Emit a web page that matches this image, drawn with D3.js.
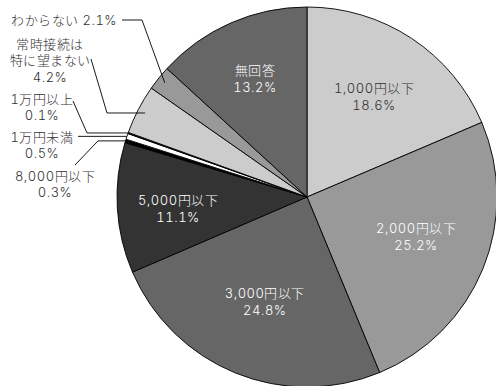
<!DOCTYPE html>
<html>
<head>
<meta charset="utf-8">
<script src="https://cdn.jsdelivr.net/npm/d3@7"></script>
<style>
  /* Light CJK face for kana/kanji; Latin digits fall through to Inter */
  @font-face {
    font-family: "ChartKanji";
    src: local("Noto Sans CJK JP Light"), local("NotoSansCJKjp-Light"), local("Noto Sans CJK JP");
    unicode-range: U+3000-9FFF, U+FF00-FFEF;
  }
  html, body { margin: 0; padding: 0; background: #fff; }
  svg { display: block; }
  text {
    font-family: "ChartKanji", "Inter", "DejaVu Sans", "Noto Sans CJK JP", sans-serif;
    font-size: 13px; font-weight: 300;
    font-feature-settings: "tnum" 1;
    letter-spacing: 0.5px;
  }
</style>
</head>
<body>
<svg id="chart" width="496" height="386"></svg>
<script>
// Slices, clockwise from 12 o'clock
const categories = [
  "1,000円以下", "2,000円以下", "3,000円以下", "5,000円以下", "8,000円以下",
  "1万円未満", "1万円以上", "常時接続は特に望まない", "わからない", "無回答"
];
const values = [18.6, 25.2, 24.8, 11.1, 0.3, 0.5, 0.1, 4.2, 2.1, 13.2];
const fills = ["#cccccc", "#999999", "#666666", "#333333", "#000000",
               "#ffffff", "#000000", "#cccccc", "#999999", "#666666"];

// Label text lines (category part) for each slice
const labelLines = [
  ["1,000円以下"], ["2,000円以下"], ["3,000円以下"], ["5,000円以下"], ["8,000円以下"],
  ["1万円未満"], ["1万円以上"], ["常時接続は", "特に望まない"], ["わからない"], ["無回答"]
];

const svg = d3.select("#chart");
const cx = 307, cy = 197, R = 190;

const data = categories.map((c, i) => ({ category: c, value: values[i], fill: fills[i], lines: labelLines[i] }));
const pct = v => d3.format(".1f")(v) + "%";

const pie = d3.pie().sort(null).value(d => d.value);
const arcs = pie(data);
const arc = d3.arc().innerRadius(0).outerRadius(R);

const g = svg.append("g").attr("transform", `translate(${cx},${cy})`);

g.selectAll("path.slice")
  .data(arcs)
  .join("path")
  .attr("class", "slice")
  .attr("d", arc)
  .attr("fill", d => d.data.fill)
  .attr("stroke", "#000")
  .attr("stroke-width", 0.9)
  .attr("stroke-linejoin", "round");

// Labels drawn inside the large slices (r: fraction of radius, dy: vertical nudge)
const innerLayout = {
  "1,000円以下": { r: 0.64, dy: 1,  color: "#333" },
  "2,000円以下": { r: 0.62, dy: -5, color: "#fff" },
  "3,000円以下": { r: 0.59, dy: 1,  color: "#fff" },
  "5,000円以下": { r: 0.68, dy: 4,  color: "#fff" },
  "無回答":      { r: 0.68, dy: 0,  color: "#fff" }
};
const lineH = 17;

function drawLines(parent, x, y, anchor, color, lines, step) {
  lines.forEach((s, k) => {
    parent.append("text")
      .attr("x", x)
      .attr("y", y + k * step)
      .attr("dy", "0.35em")
      .attr("text-anchor", anchor)
      .attr("fill", color)
      .text(s);
  });
}

arcs.filter(d => innerLayout[d.data.category]).forEach(d => {
  const L = innerLayout[d.data.category];
  const [x, y] = d3.arc().innerRadius(R * L.r).outerRadius(R * L.r).centroid(d);
  drawLines(g, x, y + L.dy - lineH / 2, "middle", L.color,
            d.data.lines.concat([pct(d.data.value)]), lineH);
});

// Small slices: labels placed outside with leader lines
// tx/ty: text anchor & first line centre; p0: start of leader; elbowX: where it turns
// to horizontal; rk: fraction of radius the leader reaches into the slice
const outerLayout = {
  "わからない":             { tx: 117, ty: 20, anchor: "end", inline: true, p0: [122, 20], elbow: [142, 20], rk: 0.96 },
  "常時接続は特に望まない": { tx: 50, ty: 44, anchor: "middle", p0: [91, 59], elbowX: 107, rk: 0.96 },
  "1万円以上":              { tx: 42, ty: 99, anchor: "middle", p0: [73, 101], elbowX: 87, rk: 1.0 },
  "1万円未満":              { tx: 42, ty: 137, anchor: "middle", p0: [78, null], elbowX: null, rk: 1.0 },
  "8,000円以下":            { tx: 55, ty: 176, anchor: "middle", p0: [75, 165], elbowX: 98, rk: 1.0 }
};
const outerLineH = 16.5;

arcs.filter(d => outerLayout[d.data.category]).forEach(d => {
  const L = outerLayout[d.data.category];
  const [ex, ey] = d3.arc().innerRadius(R * L.rk).outerRadius(R * L.rk).centroid(d);
  const end = [ex + cx, ey + cy];
  let pts;
  if (L.elbow) {
    pts = [L.p0, L.elbow, end];
  } else if (L.elbowX === null) {
    pts = [[L.p0[0], end[1]], end];
  } else {
    pts = [L.p0, [L.elbowX, end[1]], end];
  }
  svg.append("path")
    .attr("d", d3.line()(pts))
    .attr("fill", "none")
    .attr("stroke", "#000")
    .attr("stroke-width", 0.9);

  const lines = L.inline
    ? [d.data.lines[0] + " " + pct(d.data.value)]
    : d.data.lines.concat([pct(d.data.value)]);
  drawLines(svg, L.tx, L.ty, L.anchor, "#333", lines, outerLineH);
});
</script>
</body>
</html>
